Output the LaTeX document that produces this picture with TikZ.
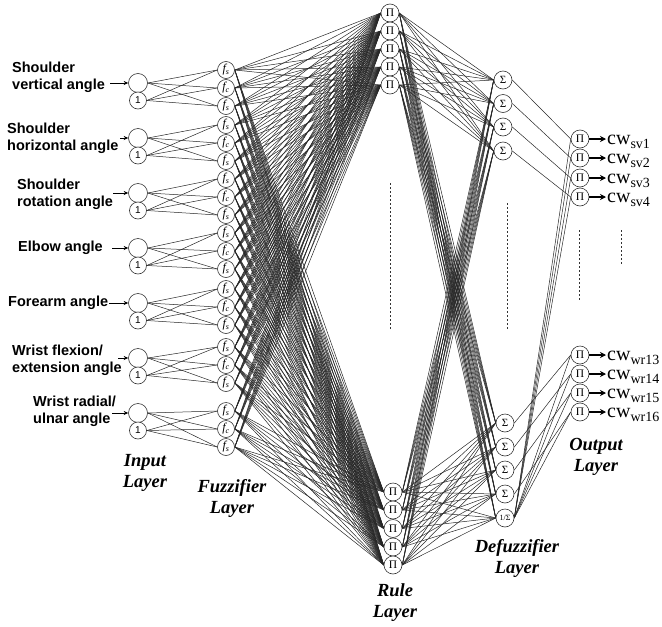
\documentclass[tikz,border=0pt]{standalone}
\usepackage{fontspec}
\setmainfont{Liberation Serif}
\setsansfont{Liberation Sans}
\usetikzlibrary{arrows.meta}
\pgfdeclarelayer{bg}
\pgfsetlayers{bg,main}
\begin{document}
\begin{tikzpicture}[x=1pt,y=-1pt,
  nd/.style={circle,draw=black!80,line width=0.6pt,fill=white,inner sep=0pt},
  inbig/.style={nd,minimum size=19pt},
  inone/.style={nd,minimum size=17pt,font=\sffamily\fontsize{10}{10}\selectfont},
  fz/.style={nd,minimum size=17pt,font=\fontsize{12}{12}\selectfont\itshape},
  pinode/.style={nd,minimum size=18pt,font=\fontsize{11.5}{11.5}\selectfont},
  sgnode/.style={nd,minimum size=18pt,font=\fontsize{11}{11}\selectfont},
  conn/.style={draw=black!85,line width=0.5pt},
  inlabel/.style={anchor=west,align=left,inner sep=0pt,font=\sffamily\bfseries\fontsize{14.5}{17}\selectfont},
  laylabel/.style={align=center,inner sep=0pt,font=\rmfamily\bfseries\itshape\fontsize{18.5}{21}\selectfont},
  outlabel/.style={anchor=base west,inner sep=0pt,font=\rmfamily\fontsize{20}{20}\selectfont},
  inarrow/.style={line width=0.8pt,-{Stealth[length=4.5pt,width=4pt]}},
  outarrow/.style={line width=1.4pt,-{Stealth[length=6pt,width=6pt]}},
  dotline/.style={line width=0.7pt,dash pattern=on 2pt off 2pt,draw=black!80}
]
\useasboundingbox (0,0) rectangle (662,627);

% input layer
\foreach \g in {1,...,7}{
  \pgfmathsetmacro{\yb}{83+55*(\g-1)}
  \node[inbig] (in\g a) at (138,\yb) {};
  \node[inone] (in\g b) at (138,\yb+17.5) {1};
}

% fuzzifier layer
\foreach \t [count=\g] in {70,125,179,233,289,347,411}{
  \node[fz] (f\g-1) at (226,\t) {f\textsubscript{s}};
  \node[fz] (f\g-2) at (226,\t+18) {f\textsubscript{c}};
  \node[fz] (f\g-3) at (226,\t+36) {f\textsubscript{s}};
}

% rule layer
\foreach \y [count=\i] in {13,31,49,67,85}{
  \node[pinode] (rt\i) at (390,\y) {Π};
}
\foreach \y [count=\i] in {492,510,528.5,547,565}{
  \node[pinode] (rb\i) at (393,\y) {Π};
}

% defuzzifier layer
\foreach \y [count=\i] in {80,103.5,127,151}{
  \node[sgnode] (dt\i) at (503,\y) {Σ};
}
\foreach \y [count=\i] in {423,447,470,494}{
  \node[sgnode] (db\i) at (505,\y) {Σ};
}
\node[sgnode,font=\fontsize{8}{8}\selectfont] (dinv) at (505,518) {1/Σ};

% output layer
\foreach \y/\s [count=\i] in {139/sv1,158/sv2,178/sv3,197/sv4}{
  \node[pinode] (ot\i) at (580,\y) {Π};
  \coordinate (otc\i) at (606,\y);
  \node[outlabel] (otl\i) at (607,\y+5) {cw\raisebox{-4.5pt}{\fontsize{14}{14}\selectfont \s}};
  \draw[outarrow] (ot\i.east) -- (otc\i);
}
\foreach \y/\s [count=\i] in {355/wr13,374/wr14,393/wr15,412/wr16}{
  \node[pinode] (ob\i) at (580,\y) {Π};
  \coordinate (obc\i) at (606,\y);
  \node[outlabel] (obl\i) at (607,\y+5) {cw\raisebox{-4.5pt}{\fontsize{14}{14}\selectfont \s}};
  \draw[outarrow] (ob\i.east) -- (obc\i);
}

% input labels
\node[inlabel] (l1) at (12,77) {Shoulder\\vertical angle};
\node[inlabel] (l2) at (7,138) {Shoulder\\horizontal angle};
\node[inlabel] (l3) at (17,194) {Shoulder\\rotation angle};
\node[inlabel] (l4) at (18,248) {Elbow angle};
\node[inlabel] (l5) at (8,303) {Forearm angle};
\node[inlabel] (l6) at (12,360) {Wrist flexion/\\extension angle};
\node[inlabel] (l7) at (33,411) {Wrist radial/\\ulnar angle};
\foreach \g/\x in {1/110,2/120,3/113,4/112,5/109,6/118,7/112}{
  \pgfmathsetmacro{\yb}{83+55*(\g-1)}
  \coordinate (ls\g) at (\x,\yb);
  \draw[inarrow] (ls\g) -- (in\g a.west);
}

% layer labels
\node[laylabel] (tin) at (145,473) {Input\\Layer};
\node[laylabel] (tfz) at (232,498) {Fuzzifier\\Layer};
\node[laylabel] (tru) at (395,603) {Rule\\Layer};
\node[laylabel] (tdf) at (517,558) {Defuzzifier\\Layer};
\node[laylabel] (tou) at (596,457) {Output\\Layer};

% dotted lines
\coordinate (d1a) at (390,183); \coordinate (d1b) at (390,330);
\coordinate (d2a) at (507,203); \coordinate (d2b) at (507,330);
\coordinate (d3a) at (579,230); \coordinate (d3b) at (579,300);
\coordinate (d4a) at (621,230); \coordinate (d4b) at (621,265);
\draw[dotline] (d1a) -- (d1b);
\draw[dotline] (d2a) -- (d2b);
\draw[dotline] (d3a) -- (d3b);
\draw[dotline] (d4a) -- (d4b);

% connections
\begin{pgfonlayer}{bg}
\foreach \g in {1,...,7}{
  \foreach \a in {a,b}{
    \foreach \j in {1,2,3}{
      \draw[conn] (in\g\a.east) -- (f\g-\j.west);
    }
  }
}
\foreach \g in {1,...,7}{
  \foreach \j in {1,2,3}{
    \foreach \r in {rt1,rt2,rt3,rt4,rt5,rb1,rb2,rb3,rb4,rb5}{
      \draw[conn] (f\g-\j.east) -- (\r.west);
    }
  }
}
\foreach \r in {rt1,rt2,rt3,rt4,rt5,rb1,rb2,rb3,rb4,rb5}{
  \foreach \d in {dt1,dt2,dt3,dt4,db1,db2,db3,db4,dinv}{
    \draw[conn] (\r.east) -- (\d.west);
  }
}
\foreach \i in {1,2,3,4}{
  \draw[conn] (dt\i.east) -- (ot\i.west);
  \draw[conn] (db\i.east) -- (ob\i.west);
}
\foreach \o in {ot1,ot2,ot3,ot4,ob1,ob2,ob3,ob4}{
  \draw[conn] (dinv.east) -- (\o.west);
}
\end{pgfonlayer}
\end{tikzpicture}
\end{document}
